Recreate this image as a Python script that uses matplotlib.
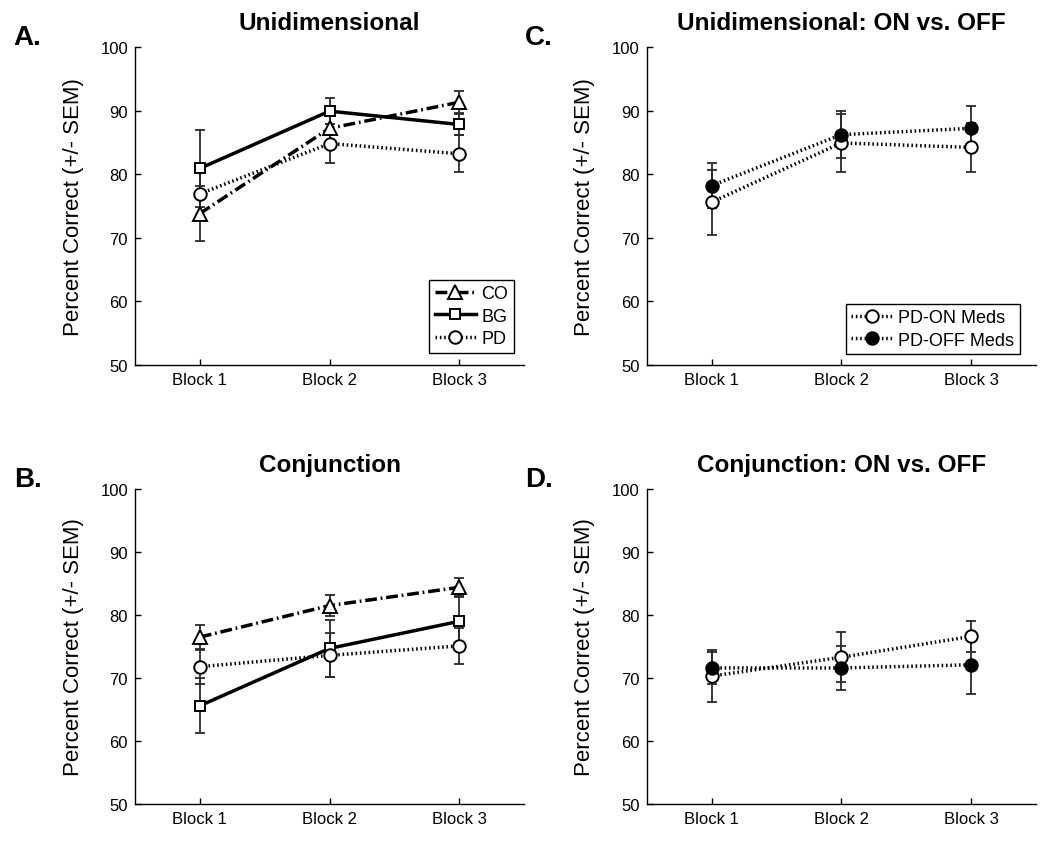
import matplotlib
matplotlib.use("Agg")
import matplotlib.pyplot as plt
import numpy as np

from matplotlib import rcParams
rcParams['font.family'] = 'sans-serif'
rcParams['font.sans-serif'] = ['Liberation Sans', 'DejaVu Sans']
rcParams['font.size'] = 12

blocks = ['Block 1', 'Block 2', 'Block 3']

# A. Unidimensional
uni_co = [73.8, 87.2, 91.3]
uni_co_sem = [4.3, 2.0, 1.7]
uni_bg = [80.9, 89.9, 87.8]
uni_bg_sem = [6.1, 2.1, 1.6]
uni_pd = [76.9, 84.8, 83.2]
uni_pd_sem = [3.4, 3.1, 2.9]

# B. Conjunction
con_co = [76.5, 81.5, 84.4]
con_co_sem = [1.9, 1.7, 1.4]
con_bg = [65.6, 74.7, 79.0]
con_bg_sem = [4.4, 4.5, 3.9]
con_pd = [71.8, 73.6, 75.1]
con_pd_sem = [2.7, 3.5, 2.9]

# C. Unidimensional ON vs OFF
uni_on = [75.6, 84.9, 84.2]
uni_on_sem = [5.1, 4.5, 3.8]
uni_off = [78.2, 86.2, 87.2]
uni_off_sem = [3.5, 3.7, 3.5]

# D. Conjunction ON vs OFF
con_on = [70.3, 73.3, 76.6]
con_on_sem = [4.1, 4.0, 2.5]
con_off = [71.6, 71.6, 72.1]
con_off_sem = [2.5, 3.5, 4.6]

x = np.arange(1, 4)

DOT = (0, (0.45, 0.8))
DASHDOT = (0, (3.4, 1.1, 0.5, 1.1))
LW = 2.5
ECOL = '#2a2a2a'


def draw(ax, y, sem, ls, marker, ms, fc, label):
    ax.errorbar(x, y, yerr=sem, fmt='none', ecolor=ECOL, elinewidth=1.3,
                capsize=3.5, capthick=1.3, zorder=2)
    ax.plot(x, y, linestyle=ls, color='black', linewidth=LW, marker=marker,
            markersize=ms, markerfacecolor=fc, markeredgecolor='black',
            markeredgewidth=1.4, label=label, zorder=3)


def style(ax, title):
    ax.set_xlim(0.5, 3.5)
    ax.set_ylim(50, 100)
    ax.set_yticks([50, 60, 70, 80, 90, 100])
    ax.set_xticks(x)
    ax.set_xticklabels(blocks)
    ax.spines['top'].set_visible(False)
    ax.spines['right'].set_visible(False)
    ax.spines['left'].set_linewidth(1.0)
    ax.spines['bottom'].set_linewidth(1.0)
    ax.tick_params(direction='in', length=4, width=1.0, labelsize=12, pad=5)
    ax.set_ylabel('Percent Correct (+/- SEM)', fontsize=16, labelpad=12)
    ax.set_title(title, fontsize=17.5, fontweight='bold', pad=13)


def legend(ax, anchor):
    leg = ax.legend(loc='upper left', bbox_to_anchor=anchor, fontsize=13,
                    fancybox=False, edgecolor='black', framealpha=1,
                    handlelength=2.3, handletextpad=0.3, borderpad=0.3,
                    labelspacing=0.3, borderaxespad=0)
    leg.get_frame().set_linewidth(1.0)


fig = plt.figure(figsize=(10.5, 8.45), dpi=100)
axA = fig.add_axes([0.1286, 0.567, 0.3705, 0.3763])
axB = fig.add_axes([0.1286, 0.0473, 0.3705, 0.3728])
axC = fig.add_axes([0.616, 0.567, 0.3705, 0.3763])
axD = fig.add_axes([0.616, 0.0473, 0.3705, 0.3728])

draw(axA, uni_co, uni_co_sem, DASHDOT, '^', 10, 'white', 'CO')
draw(axA, uni_bg, uni_bg_sem, '-', 's', 7.5, 'white', 'BG')
draw(axA, uni_pd, uni_pd_sem, DOT, 'o', 9, 'white', 'PD')
style(axA, 'Unidimensional')

draw(axB, con_co, con_co_sem, DASHDOT, '^', 10, 'white', 'CO')
draw(axB, con_bg, con_bg_sem, '-', 's', 7.5, 'white', 'BG')
draw(axB, con_pd, con_pd_sem, DOT, 'o', 9, 'white', 'PD')
style(axB, 'Conjunction')

draw(axC, uni_on, uni_on_sem, DOT, 'o', 9, 'white', 'PD-ON Meds')
draw(axC, uni_off, uni_off_sem, DOT, 'o', 9, 'black', 'PD-OFF Meds')
style(axC, 'Unidimensional: ON vs. OFF')

draw(axD, con_on, con_on_sem, DOT, 'o', 9, 'white', 'PD-ON Meds')
draw(axD, con_off, con_off_sem, DOT, 'o', 9, 'black', 'PD-OFF Meds')
style(axD, 'Conjunction: ON vs. OFF')

legend(axA, (0.756, 0.267))
legend(axC, (0.512, 0.192))

fig.text(0.013, 0.955, 'A.', fontsize=20, fontweight='bold', va='center')
fig.text(0.013, 0.432, 'B.', fontsize=20, fontweight='bold', va='center')
fig.text(0.500, 0.955, 'C.', fontsize=20, fontweight='bold', va='center')
fig.text(0.500, 0.432, 'D.', fontsize=20, fontweight='bold', va='center')

fig.savefig('out.png', dpi=100)
